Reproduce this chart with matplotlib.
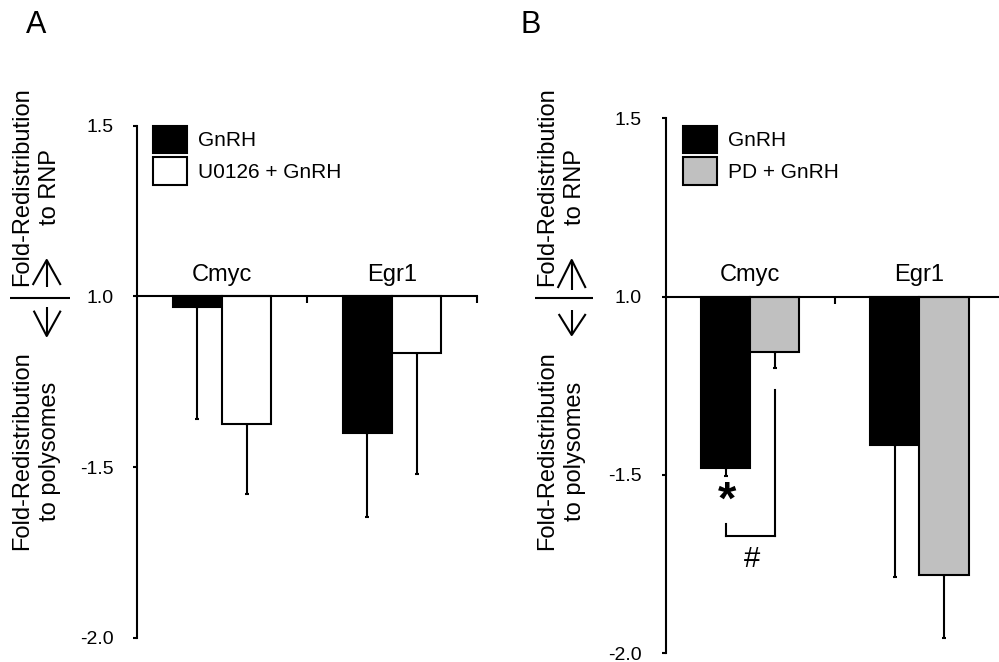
import numpy as np
import matplotlib
matplotlib.use("Agg")
import matplotlib.pyplot as plt
from matplotlib.lines import Line2D

plt.rcParams["font.family"] = ["Liberation Sans", "DejaVu Sans"]

W, H = 999, 662

genes = ["Cmyc", "Egr1"]
tick_vals = [1.5, 1.0, -1.5, -2.0]
tick_labels = ["1.5", "1.0", "-1.5", "-2.0"]

# fold redistribution (neg = toward polysomes), one-sided error bars
a_gnrh = [-1.03, -1.40]
a_gnrh_err = [0.33, 0.245]
a_u0126 = [-1.375, -1.165]
a_u0126_err = [0.205, 0.355]

b_gnrh = [-1.48, -1.415]
b_gnrh_err = [0.022, 0.37]
b_pd = [-1.155, -1.78]
b_pd_err = [0.045, 0.177]


def to_axis(f):
    # fold-change axis: 1.0 sits at zero, +/- folds spread out from there
    f = np.asarray(f, dtype=float)
    return np.where(f >= 0, f - 1, f + 1)


def px(x, y):
    return x / W, 1 - y / H


def fig_line(fig, xs, ys, lw=1.5):
    fx = [x / W for x in xs]
    fy = [1 - y / H for y in ys]
    fig.add_artist(Line2D(fx, fy, color="black", lw=lw, solid_capstyle="butt"))


def draw_panel(ax, s1, e1, s2, e2, col2, labels, xmax, xticks, leg_xy):
    x = np.arange(len(genes)) + 0.5
    w = 0.29
    sets = [(-w / 2, s1, e1, "black", labels[0]), (w / 2, s2, e2, col2, labels[1])]
    for off, vals, errs, col, lab in sets:
        v = to_axis(vals)
        ax.bar(x + off, v, w, color=col, edgecolor="black", linewidth=1.5,
               label=lab, zorder=2)
        ax.errorbar(x + off, v, yerr=[errs, np.zeros(len(errs))], fmt="none",
                    ecolor="black", elinewidth=1.5, capsize=1.2, capthick=1.5,
                    zorder=1)
    for xi, g in zip(x, genes):
        ax.annotate(g, xy=(xi, 0), xytext=(0, 11), textcoords="offset points",
                    ha="center", va="baseline", fontsize=17)

    ax.set_xlim(0, xmax)
    ax.set_ylim(-1.0, 0.5)
    ax.spines["top"].set_visible(False)
    ax.spines["right"].set_visible(False)
    ax.spines["bottom"].set_position(("data", 0))
    ax.spines["left"].set_linewidth(1.5)
    ax.spines["bottom"].set_linewidth(1.5)
    ax.set_yticks(to_axis(tick_vals))
    ax.set_yticklabels(tick_labels)
    ax.set_xticks(xticks)
    ax.set_xticklabels([])
    ax.tick_params(axis="y", direction="out", length=3, width=1.5,
                   labelsize=14, pad=14)
    ax.tick_params(axis="x", direction="out", length=5, width=1.5)
    ax.patch.set_visible(False)

    ax.legend(loc="upper left", bbox_to_anchor=px(*leg_xy),
              bbox_transform=ax.figure.transFigure, frameon=False,
              fontsize=15, handlelength=1.63, handleheight=1.63,
              labelspacing=0.2, handletextpad=0.5, borderpad=0,
              borderaxespad=0)


def y_annot(fig, xc, xa, line_x0, line_x1, up_y, dn_y):
    top = "Fold-Redistribution\nto RNP"
    bot = "Fold-Redistribution\nto polysomes"
    fig.text(*px(xc, 187), top, rotation=90, ha="center", va="center",
             fontsize=17, linespacing=1.3, multialignment="center")
    fig.text(*px(xc, 451), bot, rotation=90, ha="center", va="center",
             fontsize=17, linespacing=1.3, multialignment="center")
    fig_line(fig, [line_x0, line_x1], [298.3, 298.3])
    # up arrow
    fig_line(fig, [xa, xa], [up_y[0], up_y[1]])
    fig_line(fig, [xa - 14, xa, xa + 14], [up_y[1] - 2, up_y[0], up_y[1] - 2])
    # down arrow
    fig_line(fig, [xa, xa], [dn_y[0], dn_y[1]])
    fig_line(fig, [xa - 13, xa, xa + 14], [dn_y[0] + 4, dn_y[1], dn_y[0] + 4])


fig = plt.figure(figsize=(W / 100, H / 100), dpi=100)

axA = fig.add_axes([137 / W, (H - 637.7) / H, 340 / W, 512 / H])
draw_panel(axA, a_gnrh, a_gnrh_err, a_u0126, a_u0126_err, "white",
           ["GnRH", "U0126 + GnRH"], 2.0, [1, 2], (153.3, 126))

axB = fig.add_axes([665.7 / W, (H - 653.3) / H, 333.3 / W, 535 / H])
draw_panel(axB, b_gnrh, b_gnrh_err, b_pd, b_pd_err, "#c0c0c0",
           ["GnRH", "PD + GnRH"], 1.97, [1], (683.3, 126))

# significance marks in panel B
axB.plot([0.645, 0.645], [-0.262, -0.672], color="black", lw=1.5)
axB.plot([0.355, 0.645], [-0.672, -0.672], color="black", lw=1.5)
axB.plot([0.355, 0.355], [-0.637, -0.672], color="black", lw=1.5)
axB.text(0.36, -0.575, "*", ha="center", va="center", fontsize=34,
         fontweight="bold")
axB.text(0.51, -0.735, "#", ha="center", va="center", fontsize=21)

y_annot(fig, 36, 46.7, 10, 70, (260, 287), (306.7, 336))
y_annot(fig, 561, 571.7, 535, 593, (260, 290), (310, 335))

fig.text(*px(36, 33), "A", ha="center", va="baseline", fontsize=22)
fig.text(*px(531, 33), "B", ha="center", va="baseline", fontsize=22)

fig.savefig("out.png", dpi=100)
